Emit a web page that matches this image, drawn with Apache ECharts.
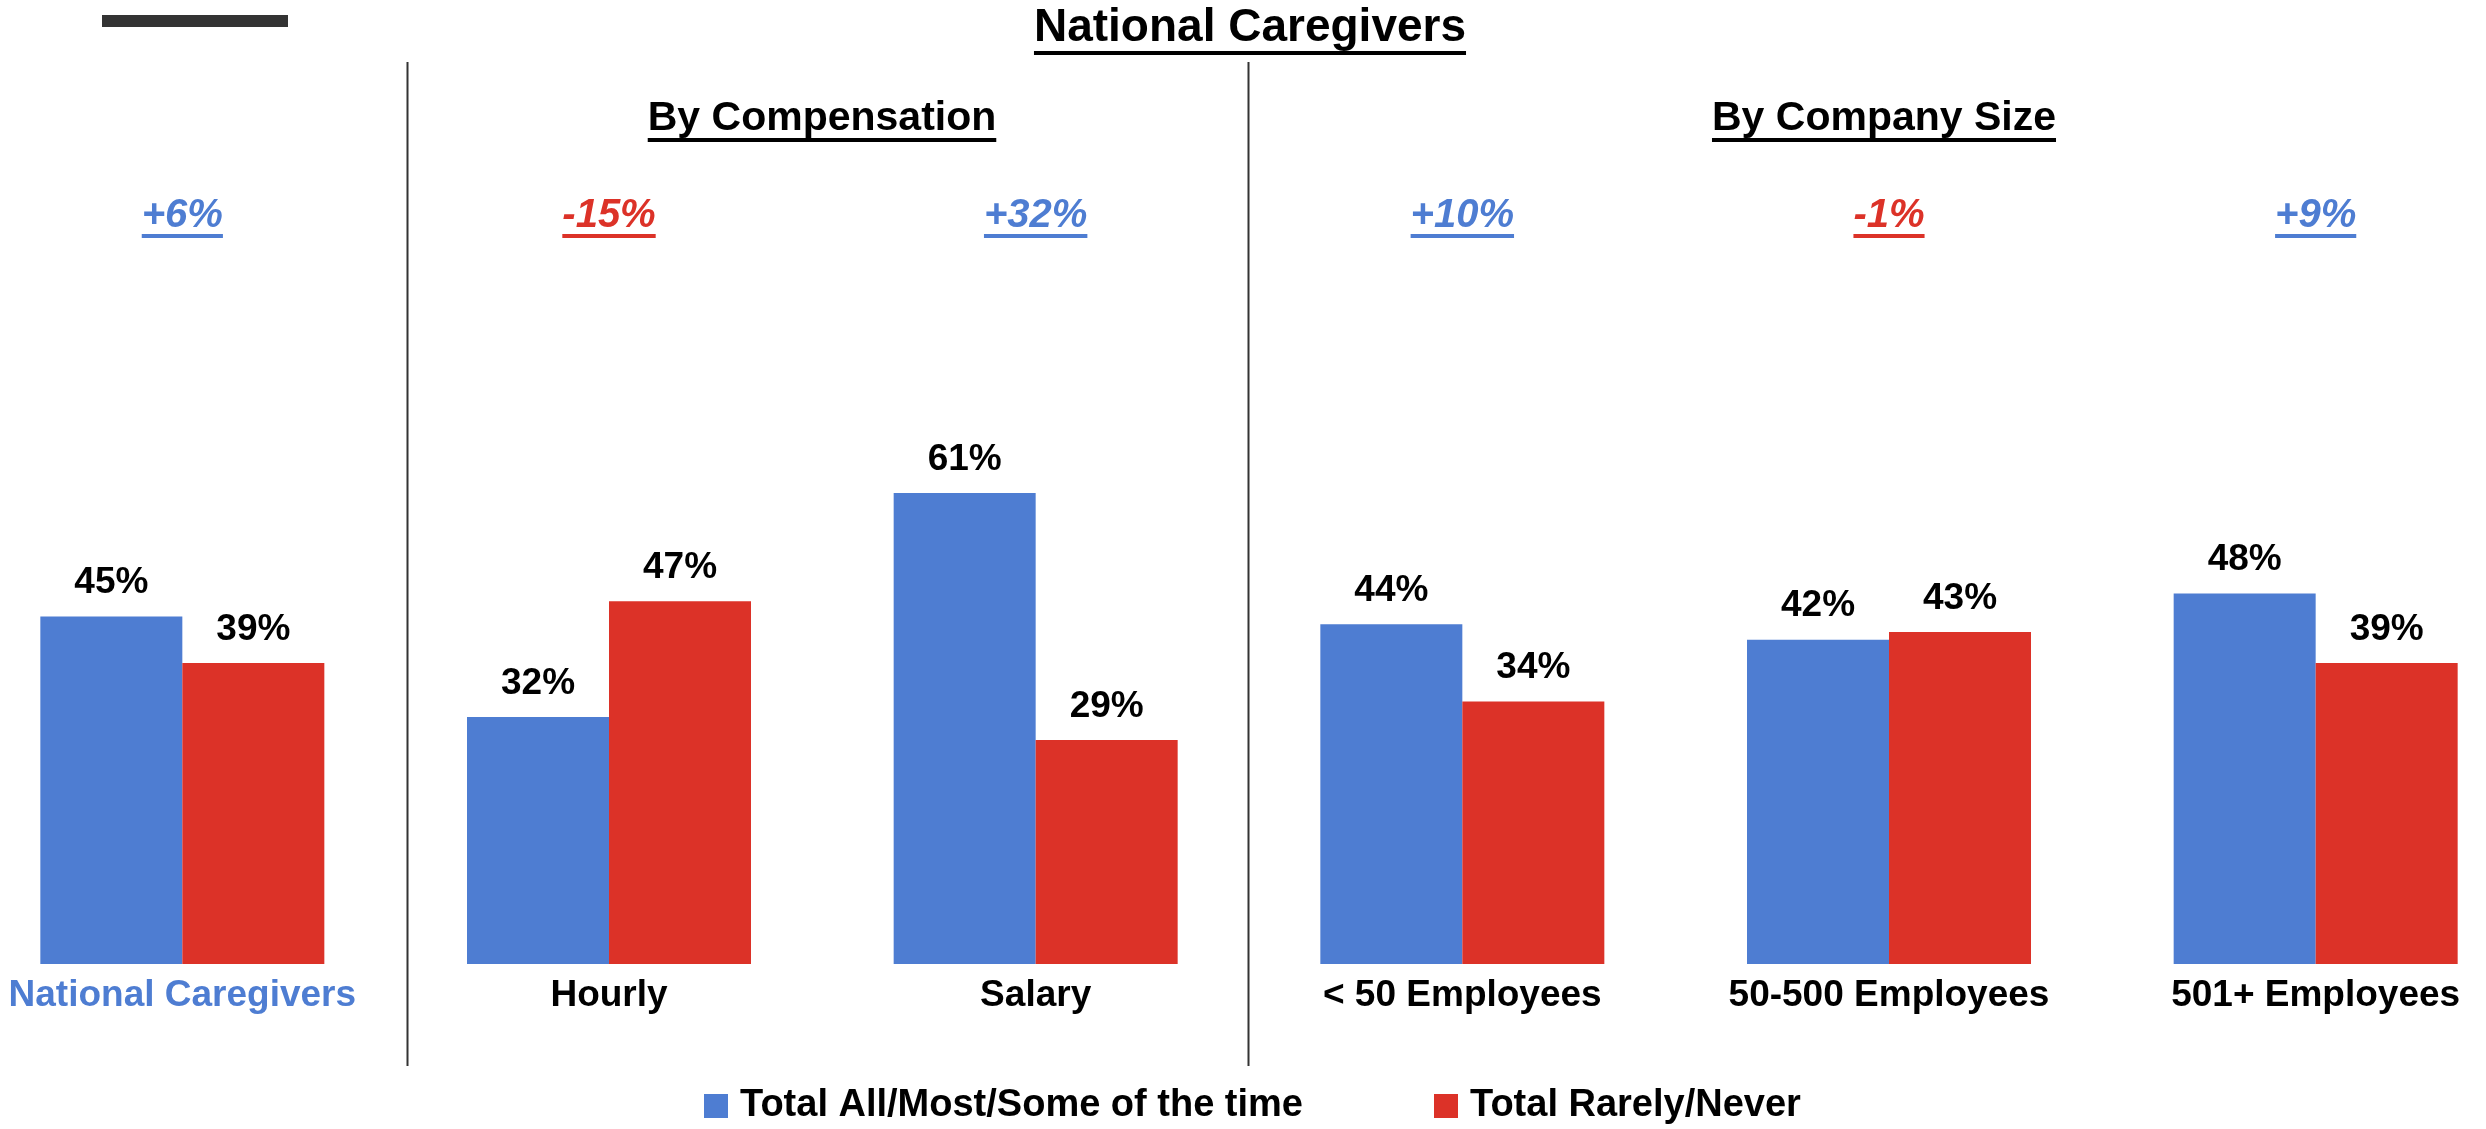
<!DOCTYPE html>
<html>
<head>
<meta charset="utf-8">
<script src="https://cdn.jsdelivr.net/npm/echarts@6/dist/echarts.min.js"></script>
<style>
  html, body { margin: 0; padding: 0; background: #fff; }
  #chart { width: 2486px; height: 1129px; }
</style>
</head>
<body>
<div id="chart"></div>
<script>
// data
const categories = ['National Caregivers', 'Hourly', 'Salary', '< 50 Employees', '50-500 Employees', '501+ Employees']
const allMostSome = [45, 32, 61, 44, 42, 48]
const rarelyNever = [39, 47, 29, 34, 43, 39]
const gap = [6, -15, 32, 10, -1, 9]
const seriesNames = ['Total All/Most/Some of the time', 'Total Rarely/Never']

const BLUE = '#4e7dd2'
const RED = '#dc3228'
const FONT = '"Liberation Sans", Arial, sans-serif'

// measure text for underlines
const ctx = document.createElement('canvas').getContext('2d')
function textWidth (text, font) {
  ctx.font = font
  return ctx.measureText(text).width
}

// underlined text: cy is the middle of the capitals
function underlined (text, cx, cy, size, color, italic, under, thick) {
  const font = (italic ? 'italic ' : '') + 'bold ' + size + 'px ' + FONT
  const w = textWidth(text, font)
  return {
    type: 'group',
    children: [
      {
        type: 'text',
        x: cx,
        y: cy,
        style: {
          text: text,
          font: font,
          fill: color,
          align: 'center',
          verticalAlign: 'middle'
        }
      },
      {
        type: 'rect',
        shape: { x: cx - w / 2, y: cy + under, width: w, height: thick },
        style: { fill: color }
      }
    ]
  }
}

const chart = echarts.init(document.getElementById('chart'), null, { renderer: 'canvas' })

const option = {
  backgroundColor: '#fff',
  animation: false,
  grid: {
    left: -31,
    right: -43,
    top: 192,
    bottom: 165,
    containLabel: false,
    outerBoundsMode: 'none'
  },
  legend: {
    left: 699,
    top: 1082,
    itemWidth: 24,
    itemHeight: 24,
    itemGap: 131,
    icon: 'rect',
    data: seriesNames,
    textStyle: {
      fontFamily: FONT,
      fontWeight: 'bold',
      fontSize: 38,
      color: '#000',
      padding: [0, 0, 0, 7]
    }
  },
  xAxis: {
    type: 'category',
    data: categories,
    axisLine: { show: false },
    axisTick: { show: false },
    axisLabel: {
      interval: 0,
      margin: 13,
      fontFamily: FONT,
      fontWeight: 'bold',
      fontSize: 37,
      color: (value, index) => index === 0 ? BLUE : '#000'
    }
  },
  yAxis: {
    type: 'value',
    min: 0,
    max: 100,
    show: false,
    splitLine: { show: false }
  },
  series: [
    {
      name: seriesNames[0],
      type: 'bar',
      data: allMostSome,
      barWidth: 142,
      barGap: 0,
      itemStyle: { color: BLUE },
      label: {
        show: true,
        position: 'top',
        distance: 15,
        formatter: '{c}%',
        fontFamily: FONT,
        fontWeight: 'bold',
        fontSize: 37,
        color: '#000'
      }
    },
    {
      name: seriesNames[1],
      type: 'bar',
      data: rarelyNever,
      barWidth: 142,
      barGap: 0,
      itemStyle: { color: RED },
      label: {
        show: true,
        position: 'top',
        distance: 15,
        formatter: '{c}%',
        fontFamily: FONT,
        fontWeight: 'bold',
        fontSize: 37,
        color: '#000'
      }
    },
    {
      // the difference above each group
      type: 'custom',
      data: gap.map((g, i) => [i, g]),
      silent: true,
      renderItem: function (params, api) {
        const i = api.value(0)
        const g = api.value(1)
        const x = api.coord([i, 0])[0]
        const text = (g > 0 ? '+' : '') + g + '%'
        return underlined(text, x, 216, 40, g > 0 ? BLUE : RED, true, 18, 4)
      }
    }
  ],
  graphic: [
    {
      type: 'rect',
      shape: { x: 102, y: 15, width: 186, height: 12 },
      style: { fill: '#333' }
    },
    underlined('National Caregivers', 1250, 28, 46, '#000', false, 23, 4),
    underlined('By Compensation', 822, 119, 41, '#000', false, 19, 4),
    underlined('By Company Size', 1884, 119, 41, '#000', false, 19, 4),
    {
      type: 'line',
      shape: { x1: 407.5, y1: 62, x2: 407.5, y2: 1066 },
      style: { stroke: '#333', lineWidth: 2 }
    },
    {
      type: 'line',
      shape: { x1: 1248.5, y1: 62, x2: 1248.5, y2: 1066 },
      style: { stroke: '#333', lineWidth: 2 }
    }
  ]
}

chart.setOption(option)
</script>
</body>
</html>
